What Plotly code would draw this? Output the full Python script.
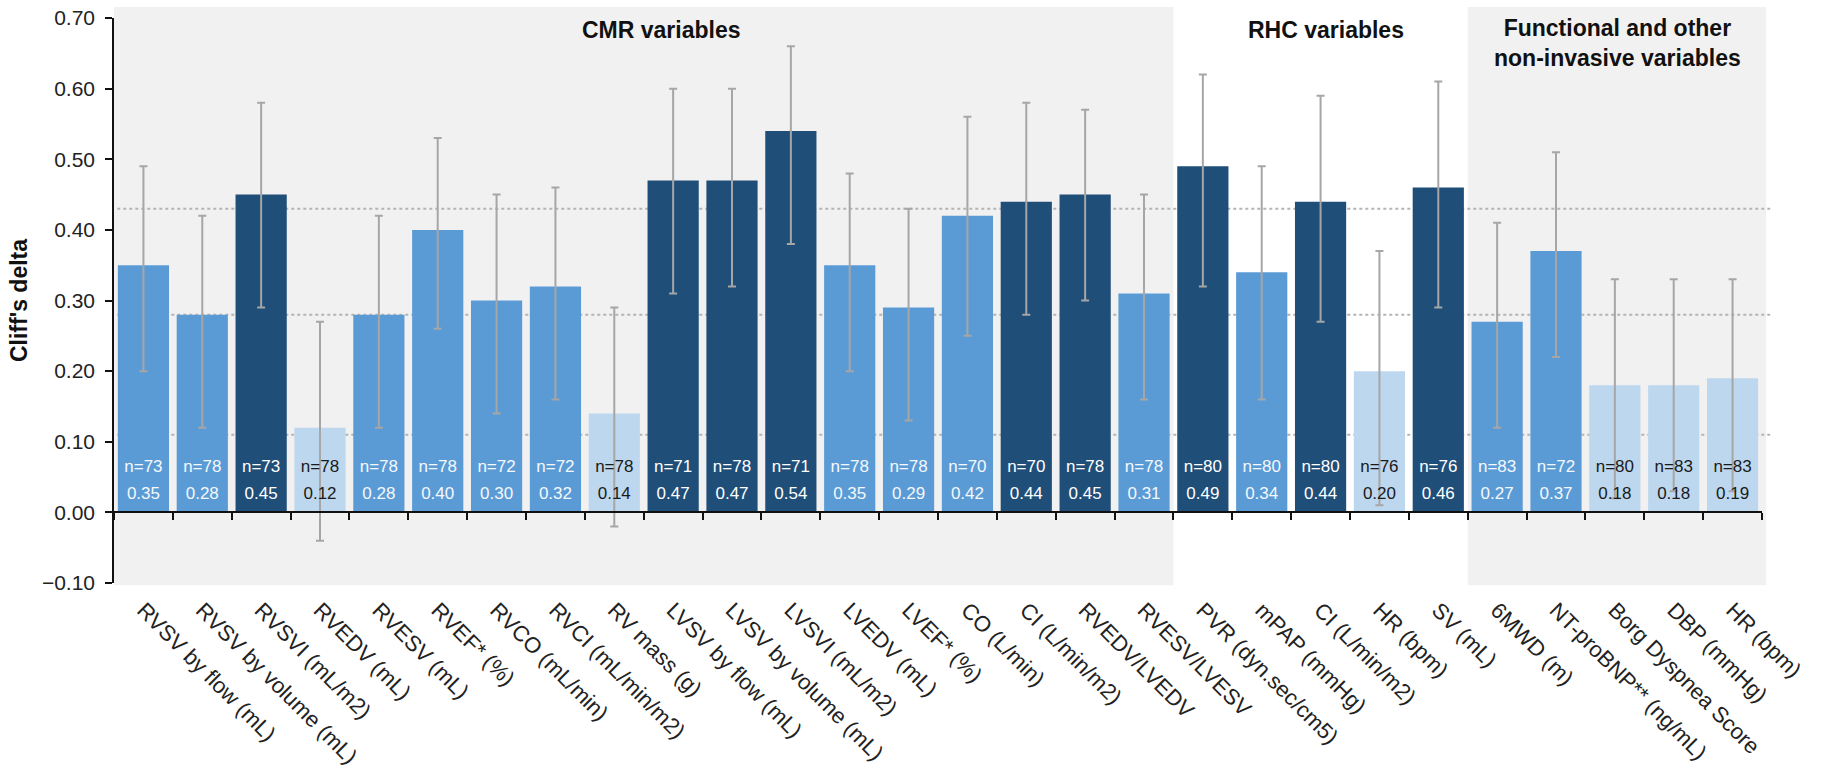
import plotly.graph_objects as go

# ---- data -----------------------------------------------------------------
categories = [
    "RVSV by flow (mL)", "RVSV by volume (mL)", "RVSVI (mL/m2)", "RVEDV (mL)",
    "RVESV (mL)", "RVEF* (%)", "RVCO (mL/min)", "RVCI (mL/min/m2)", "RV mass (g)",
    "LVSV by flow (mL)", "LVSV by volume (mL)", "LVSVI (mL/m2)", "LVEDV (mL)",
    "LVEF* (%)", "CO (L/min)", "CI (L/min/m2)", "RVEDV/LVEDV", "RVESV/LVESV",
    "PVR (dyn.sec/cm5)", "mPAP (mmHg)", "CI (L/min/m2)", "HR (bpm)", "SV (mL)",
    "6MWD (m)", "NT-proBNP** (ng/mL)", "Borg Dyspnea Score", "DBP (mmHg)", "HR (bpm)",
]
n_obs = [73, 78, 73, 78, 78, 78, 72, 72, 78, 71, 78, 71, 78, 78, 70, 70, 78, 78,
         80, 80, 80, 76, 76, 83, 72, 80, 83, 83]
cliffs_delta = [0.35, 0.28, 0.45, 0.12, 0.28, 0.40, 0.30, 0.32, 0.14, 0.47, 0.47,
                0.54, 0.35, 0.29, 0.42, 0.44, 0.45, 0.31, 0.49, 0.34, 0.44, 0.20,
                0.46, 0.27, 0.37, 0.18, 0.18, 0.19]
ci_low = [0.20, 0.12, 0.29, -0.04, 0.12, 0.26, 0.14, 0.16, -0.02, 0.31, 0.32,
          0.38, 0.20, 0.13, 0.25, 0.28, 0.30, 0.16, 0.32, 0.16, 0.27, 0.01,
          0.29, 0.12, 0.22, 0.02, 0.03, 0.03]
ci_high = [0.49, 0.42, 0.58, 0.27, 0.42, 0.53, 0.45, 0.46, 0.29, 0.60, 0.60,
           0.66, 0.48, 0.43, 0.56, 0.58, 0.57, 0.45, 0.62, 0.49, 0.59, 0.37,
           0.61, 0.41, 0.51, 0.33, 0.33, 0.33]
# shade level of each bar: D = dark, M = medium, L = light
shade = ["M", "M", "D", "L", "M", "M", "M", "M", "L", "D", "D", "D", "M", "M",
         "M", "D", "D", "M", "D", "M", "D", "L", "D", "M", "M", "L", "L", "L"]
# variable groups: (header, number of variables, shaded background)
groups = [("CMR variables", 18, True),
          ("RHC variables", 5, False),
          ("Functional and other<br>non-invasive variables", 5, True)]
# Cliff's delta thresholds (small / medium / large)
thresholds = [0.11, 0.28, 0.43]

# ---- styling --------------------------------------------------------------
FONT = "Liberation Sans, Arial, Helvetica, sans-serif"
BAR_COLORS = {"D": "#1F4E79", "M": "#5B9BD5", "L": "#BDD7EE"}
TEXT_COLORS = {"D": "#FFFFFF", "M": "#F4F8FC", "L": "#1A1A1A"}
BG_GRAY = "#F2F1F1"
ERR_GRAY = "#A6A6A6"

x_idx = list(range(len(categories)))
ncat = len(categories)
err_plus = [h - d for h, d in zip(ci_high, cliffs_delta)]
err_minus = [d - l for d, l in zip(cliffs_delta, ci_low)]

fig = go.Figure()

fig.add_trace(go.Bar(
    x=x_idx, y=cliffs_delta, width=0.87,
    marker=dict(color=[BAR_COLORS[s] for s in shade], line=dict(width=0)),
    error_y=dict(type="data", symmetric=False, array=err_plus,
                 arrayminus=err_minus, color=ERR_GRAY, thickness=2, width=4),
    showlegend=False, hoverinfo="skip",
))

# sample size and effect size printed at the foot of each bar
txt_colors = [TEXT_COLORS[s] for s in shade]
fig.add_trace(go.Scatter(
    x=x_idx, y=[0.063] * ncat, mode="text", xaxis="x2",
    text=[f"n={n}" for n in n_obs],
    textfont=dict(family=FONT, size=17, color=txt_colors),
    showlegend=False, hoverinfo="skip",
))
fig.add_trace(go.Scatter(
    x=x_idx, y=[0.025] * ncat, mode="text", xaxis="x2",
    text=[f"{d:.2f}" for d in cliffs_delta],
    textfont=dict(family=FONT, size=17, color=txt_colors),
    showlegend=False, hoverinfo="skip",
))

# group backgrounds and headers
shapes = []
annotations = []
header_x = [8.8, 20.1, 25.04]
start = 0
for (label, count, shaded), hx in zip(groups, header_x):
    x0 = start / ncat
    x1 = (start + count) / ncat
    if shaded:
        shapes.append(dict(type="rect", xref="paper", yref="paper",
                           x0=x0, x1=x1 + (0.0025 if start + count == ncat else 0),
                           y0=-0.004, y1=1.0195, fillcolor=BG_GRAY,
                           line=dict(width=0), layer="below"))
    two_lines = "<br>" in label
    annotations.append(dict(
        x=hx, y=0.955 if two_lines else 0.979, xref="x", yref="paper",
        text=f"<b>{label}</b>", showarrow=False, xanchor="center", yanchor="middle",
        font=dict(family=FONT, size=23, color="#111111"),
    ))
    start += count

for t in thresholds:
    shapes.append(dict(type="line", xref="paper", yref="y", x0=0.002, x1=1.005,
                       y0=t, y1=t, line=dict(color="#B4B4B4", width=2, dash="dot"),
                       layer="below"))

fig.update_layout(
    width=1821, height=777,
    margin=dict(l=114, r=59, t=18, b=194, autoexpand=False),
    paper_bgcolor="white", plot_bgcolor="rgba(0,0,0,0)",
    font=dict(family=FONT, color="#222222"),
    shapes=shapes, annotations=annotations,
    bargap=0.13,
    xaxis=dict(
        range=[-0.5, ncat - 0.5], tickmode="array", tickvals=x_idx,
        ticktext=categories, tickangle=45, ticks="", showline=False,
        showgrid=False, zeroline=False, ticklabelstandoff=9,
        tickfont=dict(family=FONT, size=22, color="#222222"),
    ),
    xaxis2=dict(
        overlaying="x", anchor="free", position=0.125, side="bottom",
        range=[-0.5, ncat - 0.5], tickmode="array",
        tickvals=[i - 0.5 for i in range(ncat + 1)], showticklabels=False,
        ticks="outside", ticklen=7, tickwidth=1.5, tickcolor="#111111",
        showline=True, linecolor="#111111", linewidth=1.5,
        showgrid=False, zeroline=False,
    ),
    yaxis=dict(
        range=[-0.1, 0.7], tickmode="linear", tick0=-0.1, dtick=0.1,
        tickformat=".2f", ticks="outside", ticklen=7, tickwidth=1.5,
        tickcolor="#111111", showline=True, linecolor="#111111", linewidth=1.5,
        showgrid=False, zeroline=False, ticklabelstandoff=6,
        tickfont=dict(family=FONT, size=21, color="#222222"),
        title=dict(text="<b>Cliff's delta</b>", standoff=8,
                   font=dict(family=FONT, size=23, color="#111111")),
    ),
)

fig.write_html("out.html")
